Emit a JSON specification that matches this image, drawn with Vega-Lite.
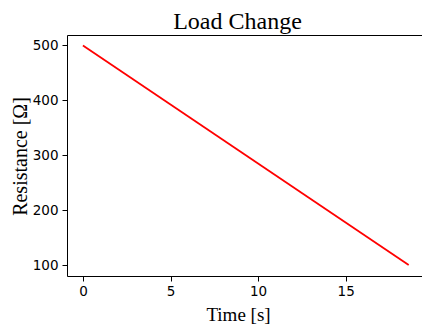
{
  "$schema": "https://vega.github.io/schema/vega-lite/v6.json",
  "width": 355,
  "height": 241,
  "autosize": {"type": "none"},
  "padding": {"left": 67, "top": 35, "right": 0, "bottom": 53},
  "background": "white",
  "title": {"text": "Load Change", "font": "Liberation Serif", "fontSize": 24, "fontWeight": "normal", "color": "black", "anchor": "middle", "frame": "group", "dx": -7, "dy": 26, "baseline": "bottom", "offset": 3},
  "config": {"view": {"stroke": null}},
  "data": {"values": [{"time": 0, "resistance": 500}, {"time": 18.6, "resistance": 100}]},
  "layer": [
    {
      "mark": {"type": "line", "color": "#ff0000", "strokeWidth": 1.8},
      "encoding": {
        "x": {
          "field": "time", "type": "quantitative",
          "scale": {"domain": [-0.91, 19.36], "nice": false, "zero": false},
          "axis": {
            "orient": "bottom", "values": [0, 5, 10, 15], "grid": false,
            "labelFont": "DejaVu Sans", "labelFontSize": 13.5, "labelColor": "black", "labelPadding": 3,
            "tickColor": "black", "tickSize": 5, "tickWidth": 1,
            "domainColor": "black", "domainWidth": 1,
            "title": "Time [s]", "titleFont": "Liberation Serif", "titleFontSize": 19, "titleFontWeight": "normal", "titleColor": "black",
            "titleX": 171, "titleY": 44, "titleBaseline": "alphabetic", "titleAlign": "center"
          }
        },
        "y": {
          "field": "resistance", "type": "quantitative",
          "scale": {"domain": [80, 519], "nice": false, "zero": false},
          "axis": {
            "values": [100, 200, 300, 400, 500], "grid": false,
            "labelFont": "DejaVu Sans", "labelFontSize": 13.5, "labelColor": "black", "labelPadding": 4,
            "tickColor": "black", "tickSize": 5, "tickWidth": 1,
            "domainColor": "black", "domainWidth": 1,
            "title": "Resistance [Ω]", "titleFont": "Liberation Serif", "titleFontSize": 20, "titleFontWeight": "normal", "titleColor": "black",
            "titleX": -47, "titleY": 121, "titleBaseline": "middle", "titleAlign": "center", "titleAngle": -90
          }
        }
      }
    },
    {
      "mark": {"type": "line", "opacity": 0},
      "encoding": {
        "x": {"field": "time", "type": "quantitative", "axis": {"orient": "top", "labels": false, "ticks": false, "title": null, "grid": false, "domainColor": "black", "domainWidth": 1}},
        "y": {"field": "resistance", "type": "quantitative", "axis": null}
      }
    }
  ],
  "resolve": {"axis": {"x": "independent", "y": "independent"}}
}
